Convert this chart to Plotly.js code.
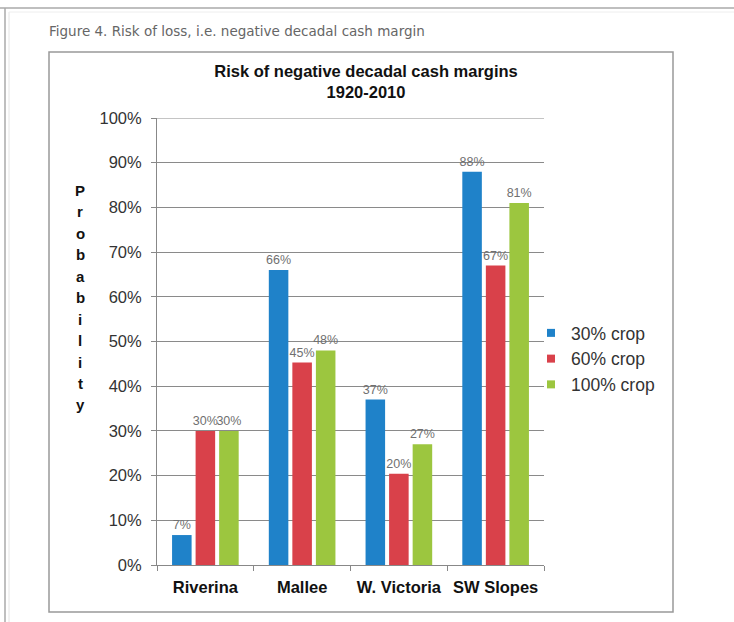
<!DOCTYPE html>
<html>
<head>
<meta charset="utf-8">
<script src="https://cdn.plot.ly/plotly-3.0.1.min.js"></script>
<style>
  html, body { margin: 0; padding: 0; background: #fff; }
  #chart { width: 734px; height: 622px; }
</style>
</head>
<body>
<div id="chart"></div>
<script>
// ---- data ----
const regions = ["Riverina", "Mallee", "W. Victoria", "SW Slopes"];
const crop30 = [6.7, 66, 37, 88];
const crop60 = [30, 45.3, 20.4, 67];
const crop100 = [30, 48, 27, 81];
const seriesNames = ["30% crop", "60% crop", "100% crop"];
const yTicks = [0, 10, 20, 30, 40, 50, 60, 70, 80, 90, 100];
const yTickText = yTicks.map(v => v + "%");
const captionText = "Figure 4. Risk of loss, i.e. negative decadal cash margin";
const titleText = "Risk of negative decadal cash margins<br>1920-2010";
const yTitle = "Probability";

// ---- styling ----
const colors = ["#1f82c9", "#d9414a", "#9cc63f"];
const FONT = "Liberation Sans, Arial, sans-serif";
const W = 734, H = 622;
const L = 157, R = 544, T = 118, B = 565;   // plot area in px
const px = x => (x - L) / (R - L);
const py = y => (B - y) / (B - T);

const seriesVals = [crop30, crop60, crop100];
const traces = seriesVals.map((vals, i) => ({
  type: "bar",
  x: regions,
  y: vals,
  name: seriesNames[i],
  marker: { color: colors[i] },
  text: vals.map(v => Math.round(v) + "%"),
  textposition: "outside",
  constraintext: "none",
  textfont: { family: FONT, size: 12.5, color: "#707070" },
  cliponaxis: false,
  showlegend: false,
  hoverinfo: "skip"
}));
// legend-only traces with small square markers
seriesNames.forEach((n, i) => {
  traces.push({
    type: "scatter", mode: "markers",
    x: [regions[0]], y: [null],
    name: n, legendgroup: "g" + i,
    marker: { symbol: "square", size: 8, color: colors[i] },
    showlegend: true, hoverinfo: "skip"
  });
});

const annotations = [{
  text: captionText, xref: "paper", yref: "paper",
  x: px(47), y: py(31), xanchor: "left", yanchor: "middle", showarrow: false,
  font: { family: "DejaVu Sans, Verdana, sans-serif", size: 13.5, color: "#666" }
}];
yTitle.split("").forEach((ch, i) => {
  annotations.push({
    text: ch, xref: "paper", yref: "paper",
    x: px(80), y: py(190 + i * 21.5), xanchor: "center", yanchor: "middle", showarrow: false,
    font: { family: FONT, size: 15, color: "#111", weight: "bold" }
  });
});

const line = (x0, y0, x1, y1, color, w) => ({
  type: "line", xref: "paper", yref: "paper",
  x0: px(x0), y0: py(y0), x1: px(x1), y1: py(y1),
  line: { color: color, width: w }, layer: "below"
});
const shapes = [
  // page frame
  line(0, 8, 734, 8, "#aaa", 1.5),
  line(5, 8, 5, 622, "#aaa", 1.5),
  line(9, 12, 9, 622, "#e4e4e4", 1),
  line(9, 12, 734, 12, "#eee", 1),
  // chart box
  { type: "rect", xref: "paper", yref: "paper",
    x0: px(49), y0: py(612), x1: px(673), y1: py(52),
    line: { color: "#999", width: 1.5 }, layer: "below" },
  // top gridline at 100%
  { type: "line", xref: "paper", yref: "y", x0: 0, x1: 1, y0: 100, y1: 100,
    line: { color: "#8a8a8a", width: 1 }, layer: "below" }
];

const layout = {
  width: W, height: H,
  margin: { l: L, r: W - R, t: T, b: H - B, pad: 0 },
  paper_bgcolor: "#fff", plot_bgcolor: "rgba(0,0,0,0)",
  title: {
    text: titleText, x: px(366), xref: "paper", xanchor: "center",
    y: 1 - 77 / H, yref: "container", yanchor: "middle",
    font: { family: FONT, size: 16.5, color: "#111", weight: "bold" }
  },
  barmode: "group", bargap: 0.27, bargroupgap: 0.17,
  xaxis: {
    type: "category", showgrid: false, showline: true, linecolor: "#888", linewidth: 1,
    ticks: "outside", tickson: "boundaries", ticklen: 5, tickcolor: "#888",
    ticklabelstandoff: 7,
    tickfont: { family: FONT, size: 16.5, color: "#111", weight: "bold" }
  },
  yaxis: {
    range: [0, 100], tickvals: yTicks, ticktext: yTickText,
    showgrid: true, gridcolor: "#8a8a8a", gridwidth: 1,
    showline: true, linecolor: "#888", linewidth: 1, zeroline: false,
    ticks: "outside", ticklen: 5, tickcolor: "#888", ticklabelstandoff: 6,
    tickfont: { family: FONT, size: 16.5, color: "#333" }
  },
  showlegend: true,
  legend: {
    x: px(531), y: py(315), xanchor: "left", yanchor: "top",
    traceorder: "grouped", tracegroupgap: 0, itemwidth: 30,
    font: { family: FONT, size: 17.5, color: "#333" },
    bgcolor: "rgba(0,0,0,0)"
  },
  annotations: annotations,
  shapes: shapes
};

Plotly.newPlot("chart", traces, layout, { displayModeBar: false, staticPlot: true });
</script>
</body>
</html>
